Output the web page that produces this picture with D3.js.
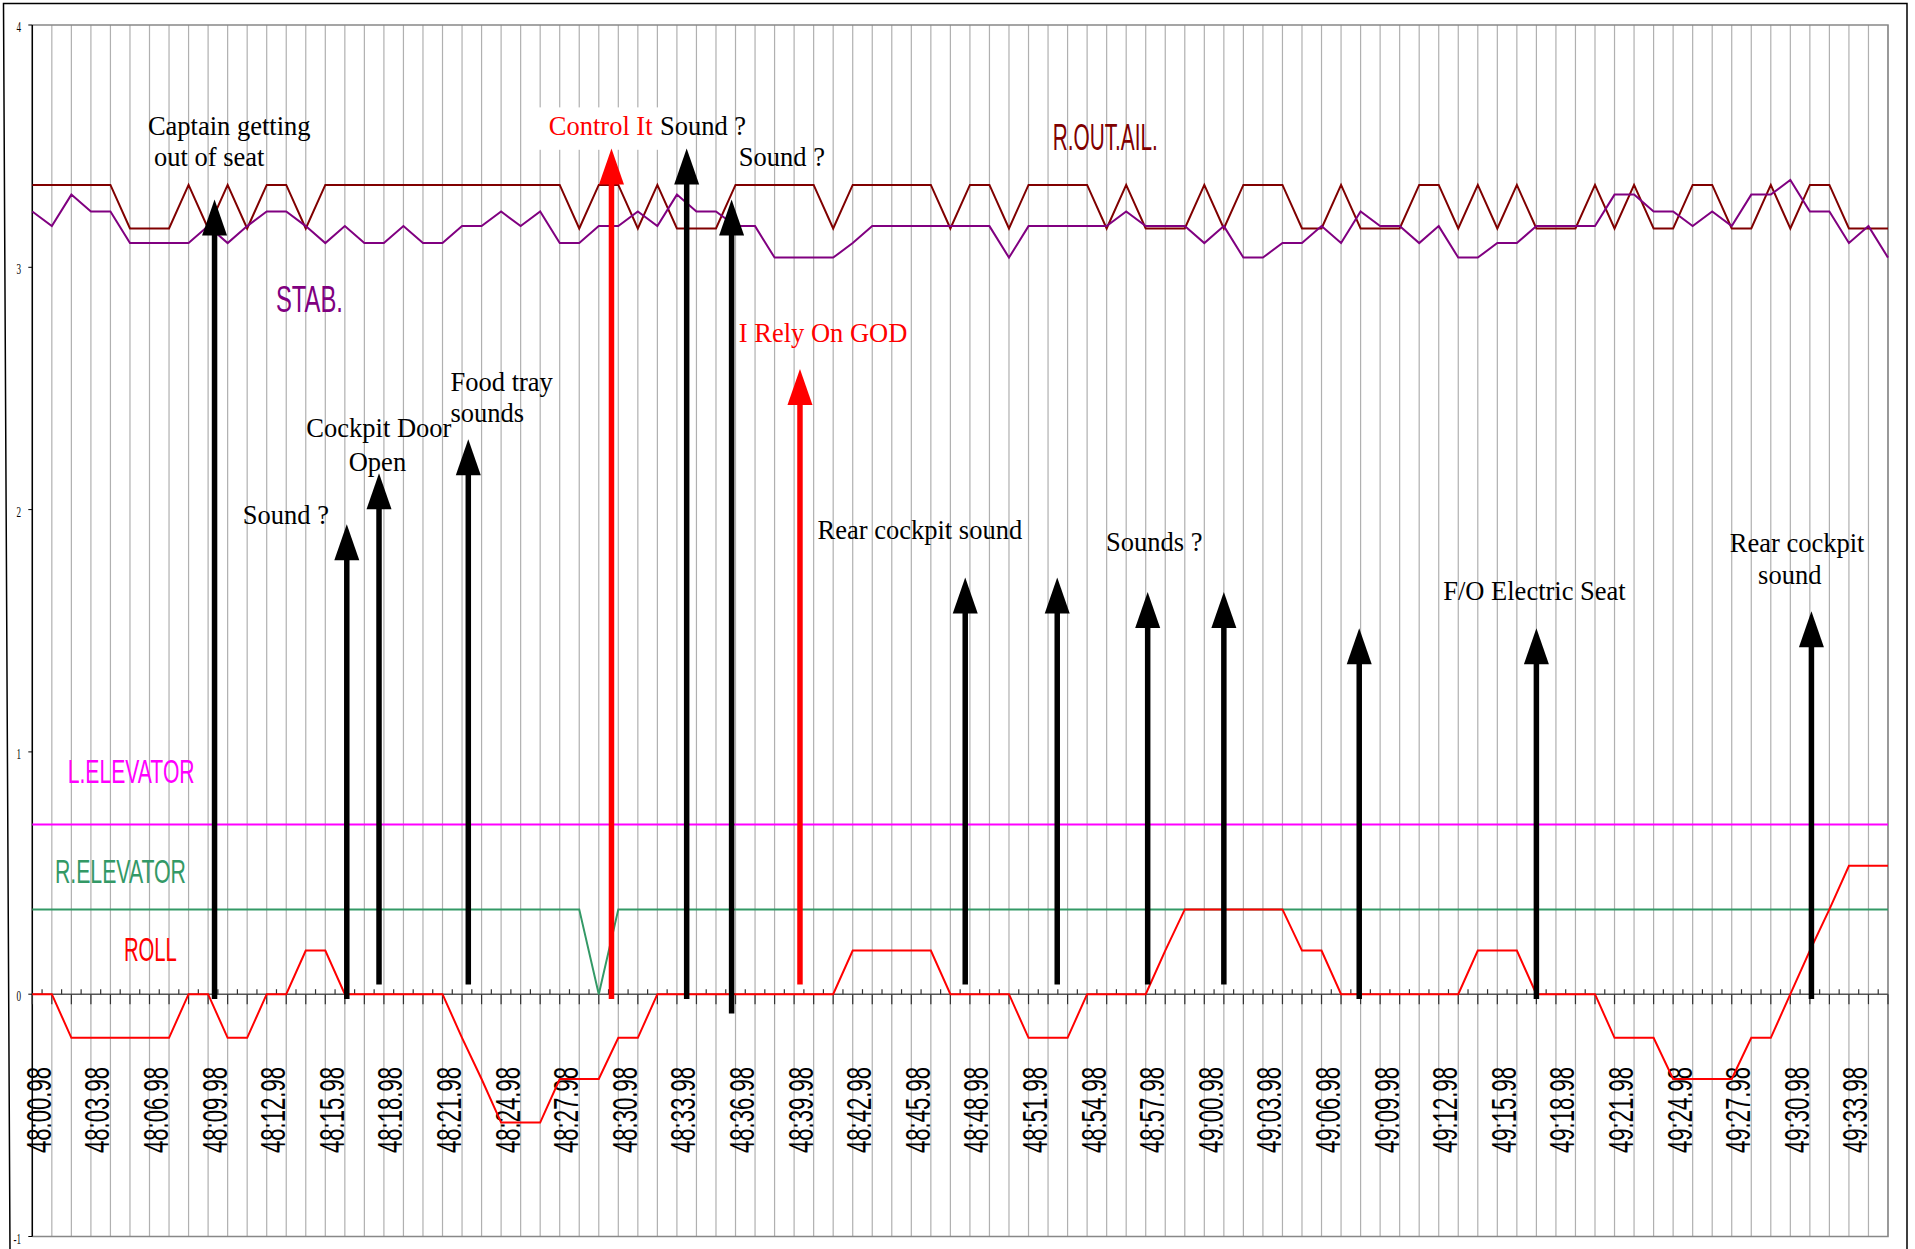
<!DOCTYPE html>
<html>
<head>
<meta charset="utf-8">
<script src="https://cdn.jsdelivr.net/npm/d3@7"></script>
<style>
    html, body { margin: 0; padding: 0; background: #fff; }
    svg { display: block; }
</style>
</head>
<body>
<div id="chart"></div>
<script>
// Time stamps (one per second)
const categories = [
    '48:00.98','48:01.98','48:02.98','48:03.98','48:04.98','48:05.98','48:06.98','48:07.98','48:08.98','48:09.98',
    '48:10.98','48:11.98','48:12.98','48:13.98','48:14.98','48:15.98','48:16.98','48:17.98','48:18.98','48:19.98',
    '48:20.98','48:21.98','48:22.98','48:23.98','48:24.98','48:25.98','48:26.98','48:27.98','48:28.98','48:29.98',
    '48:30.98','48:31.98','48:32.98','48:33.98','48:34.98','48:35.98','48:36.98','48:37.98','48:38.98','48:39.98',
    '48:40.98','48:41.98','48:42.98','48:43.98','48:44.98','48:45.98','48:46.98','48:47.98','48:48.98','48:49.98',
    '48:50.98','48:51.98','48:52.98','48:53.98','48:54.98','48:55.98','48:56.98','48:57.98','48:58.98','48:59.98',
    '49:00.98','49:01.98','49:02.98','49:03.98','49:04.98','49:05.98','49:06.98','49:07.98','49:08.98','49:09.98',
    '49:10.98','49:11.98','49:12.98','49:13.98','49:14.98','49:15.98','49:16.98','49:17.98','49:18.98','49:19.98',
    '49:20.98','49:21.98','49:22.98','49:23.98','49:24.98','49:25.98','49:26.98','49:27.98','49:28.98','49:29.98',
    '49:30.98','49:31.98','49:32.98','49:33.98','49:34.98','49:35.98'
];

// R.OUT.AIL. (maroon)
const rOutAil = [
    3.34,3.34,3.34,3.34,3.34,3.16,3.16,3.16,3.34,3.16,
    3.34,3.16,3.34,3.34,3.16,3.34,3.34,3.34,3.34,3.34,
    3.34,3.34,3.34,3.34,3.34,3.34,3.34,3.34,3.16,3.34,
    3.34,3.16,3.34,3.16,3.16,3.16,3.34,3.34,3.34,3.34,
    3.34,3.16,3.34,3.34,3.34,3.34,3.34,3.16,3.34,3.34,
    3.16,3.34,3.34,3.34,3.34,3.16,3.34,3.16,3.16,3.16,
    3.34,3.16,3.34,3.34,3.34,3.16,3.16,3.34,3.16,3.16,
    3.16,3.34,3.34,3.16,3.34,3.16,3.34,3.16,3.16,3.16,
    3.34,3.16,3.34,3.16,3.16,3.34,3.34,3.16,3.16,3.34,
    3.16,3.34,3.34,3.16,3.16,3.16
];

// STAB. (purple)
const stab = [
    3.23,3.17,3.30,3.23,3.23,3.10,3.10,3.10,3.10,3.17,
    3.10,3.17,3.23,3.23,3.17,3.10,3.17,3.10,3.10,3.17,
    3.10,3.10,3.17,3.17,3.23,3.17,3.23,3.10,3.10,3.17,
    3.17,3.23,3.17,3.30,3.23,3.23,3.17,3.17,3.04,3.04,
    3.04,3.04,3.10,3.17,3.17,3.17,3.17,3.17,3.17,3.17,
    3.04,3.17,3.17,3.17,3.17,3.17,3.23,3.17,3.17,3.17,
    3.10,3.17,3.04,3.04,3.10,3.10,3.17,3.10,3.23,3.17,
    3.17,3.10,3.17,3.04,3.04,3.10,3.10,3.17,3.17,3.17,
    3.17,3.30,3.30,3.23,3.23,3.17,3.23,3.17,3.30,3.30,
    3.36,3.23,3.23,3.10,3.17,3.04
];

// L.ELEVATOR (magenta)
const lElevator = [
    0.70,0.70,0.70,0.70,0.70,0.70,0.70,0.70,0.70,0.70,
    0.70,0.70,0.70,0.70,0.70,0.70,0.70,0.70,0.70,0.70,
    0.70,0.70,0.70,0.70,0.70,0.70,0.70,0.70,0.70,0.70,
    0.70,0.70,0.70,0.70,0.70,0.70,0.70,0.70,0.70,0.70,
    0.70,0.70,0.70,0.70,0.70,0.70,0.70,0.70,0.70,0.70,
    0.70,0.70,0.70,0.70,0.70,0.70,0.70,0.70,0.70,0.70,
    0.70,0.70,0.70,0.70,0.70,0.70,0.70,0.70,0.70,0.70,
    0.70,0.70,0.70,0.70,0.70,0.70,0.70,0.70,0.70,0.70,
    0.70,0.70,0.70,0.70,0.70,0.70,0.70,0.70,0.70,0.70,
    0.70,0.70,0.70,0.70,0.70,0.70
];

// R.ELEVATOR (green)
const rElevator = [
    0.35,0.35,0.35,0.35,0.35,0.35,0.35,0.35,0.35,0.35,
    0.35,0.35,0.35,0.35,0.35,0.35,0.35,0.35,0.35,0.35,
    0.35,0.35,0.35,0.35,0.35,0.35,0.35,0.35,0.35,0,
    0.35,0.35,0.35,0.35,0.35,0.35,0.35,0.35,0.35,0.35,
    0.35,0.35,0.35,0.35,0.35,0.35,0.35,0.35,0.35,0.35,
    0.35,0.35,0.35,0.35,0.35,0.35,0.35,0.35,0.35,0.35,
    0.35,0.35,0.35,0.35,0.35,0.35,0.35,0.35,0.35,0.35,
    0.35,0.35,0.35,0.35,0.35,0.35,0.35,0.35,0.35,0.35,
    0.35,0.35,0.35,0.35,0.35,0.35,0.35,0.35,0.35,0.35,
    0.35,0.35,0.35,0.35,0.35,0.35
];

// ROLL (red)
const roll = [
    0,0,-0.18,-0.18,-0.18,-0.18,-0.18,-0.18,0,0,
    -0.18,-0.18,0,0,0.18,0.18,0,0,0,0,
    0,0,-0.18,-0.35,-0.53,-0.53,-0.53,-0.35,-0.35,-0.35,
    -0.18,-0.18,0,0,0,0,0,0,0,0,
    0,0,0.18,0.18,0.18,0.18,0.18,0,0,0,
    0,-0.18,-0.18,-0.18,0,0,0,0,0.18,0.35,
    0.35,0.35,0.35,0.35,0.35,0.18,0.18,0,0,0,
    0,0,0,0,0.18,0.18,0.18,0,0,0,
    0,-0.18,-0.18,-0.18,-0.35,-0.35,-0.35,-0.35,-0.18,-0.18,
    0,0.18,0.35,0.53,0.53,0.53
];

const yTicks = [4, 3, 2, 1, 0, -1];
const xLabelStep = 3;

// Event arrows: position in seconds from start, tip and foot value
const arrowAt     = [9.33, 16.1, 17.75, 22.32, 29.65, 33.5, 35.8, 39.3, 47.76, 52.47, 57.1, 61.0, 67.93, 77.0, 91.08];
const arrowTip    = [3.28, 1.94, 2.15, 2.29, 3.49, 3.49, 3.28, 2.58, 1.72, 1.72, 1.66, 1.66, 1.51, 1.51, 1.58];
const arrowFoot   = [-0.02, -0.02, 0.04, 0.04, -0.02, -0.02, -0.08, 0.04, 0.04, 0.04, 0.04, 0.04, -0.02, -0.02, -0.02];
const arrowRed    = [false, false, false, false, true, false, false, true, false, false, false, false, false, false, false];

// Handwritten-style notes (anchored at seconds / value)
const notes = [
    { text: 'Captain getting', at: 5.92, v: 3.546, red: false },
    { text: 'out of seat', at: 6.23, v: 3.418, red: false },
    { text: 'Sound ?', at: 10.78, v: 1.94, red: false },
    { text: 'Cockpit Door', at: 14.03, v: 2.30, red: false },
    { text: 'Open', at: 16.2, v: 2.158, red: false },
    { text: 'Food tray', at: 21.41, v: 2.49, red: false },
    { text: 'sounds', at: 21.41, v: 2.36, red: false },
    { text: 'Control It', at: 26.44, v: 3.546, red: true },
    { text: 'Sound ?', at: 32.13, v: 3.546, red: false },
    { text: 'Sound ?', at: 36.17, v: 3.418, red: false },
    { text: 'I Rely On GOD', at: 36.17, v: 2.69, red: true },
    { text: 'Rear cockpit sound', at: 40.2, v: 1.88, red: false },
    { text: 'Sounds ?', at: 54.97, v: 1.83, red: false },
    { text: 'F/O Electric Seat', at: 72.23, v: 1.628, red: false },
    { text: 'Rear cockpit', at: 86.9, v: 1.825, red: false },
    { text: 'sound', at: 88.35, v: 1.694, red: false }
];

const seriesNames = ['STAB.', 'R.OUT.AIL.', 'L.ELEVATOR', 'R.ELEVATOR', 'ROLL'];
const seriesNameAt = [12.47, 52.24, 1.81, 1.16, 4.69];
const seriesNameV = [2.816, 3.485, 0.873, 0.46, 0.137];

const colors = {
    stab: '#800080',
    rOutAil: '#800000',
    lElevator: '#ff00ff',
    rElevator: '#339966',
    roll: '#ff0000'
};
const nameColors = [colors.stab, colors.rOutAil, colors.lElevator, colors.rElevator, colors.roll];
const nameSize = [37, 37, 34, 34, 34];
const nameWidth = [67, 105, 127, 131, 53];

const W = 1915, H = 1249;
const plot = { left: 32.3, right: 1888, top: 25, bottom: 1236.5 };

const svg = d3.select('#chart')
    .append('svg')
    .attr('width', W)
    .attr('height', H);

const x = d3.scaleLinear()
    .domain([0, categories.length - 1])
    .range([plot.left, plot.right]);

const y = d3.scaleLinear()
    .domain([-1, 4])
    .range([plot.bottom, plot.top]);

// Outer frame (scan is slightly skewed)
svg.append('path')
    .attr('d', `M10,${H} L3.5,3.5 L1907,3.5 L1907,${H}`)
    .attr('fill', 'none')
    .attr('stroke', '#000')
    .attr('stroke-width', 1.5);

// Vertical grid lines
svg.append('g')
    .selectAll('line')
    .data(categories)
    .enter()
    .append('line')
    .attr('x1', (d, i) => x(i))
    .attr('x2', (d, i) => x(i))
    .attr('y1', y(4))
    .attr('y2', y(-1))
    .attr('stroke', '#b0b0b0')
    .attr('stroke-width', 1.2);

// Plot border (top, right, bottom)
svg.append('path')
    .attr('d', `M${plot.left},${y(4)} L${plot.right},${y(4)} L${plot.right},${y(-1)} L${plot.left},${y(-1)}`)
    .attr('fill', 'none')
    .attr('stroke', '#888')
    .attr('stroke-width', 1.5);

// White box behind "Control It"
svg.append('rect')
    .attr('x', x(25.85))
    .attr('y', y(3.66))
    .attr('width', x(32.2) - x(25.85))
    .attr('height', y(3.485) - y(3.66))
    .attr('fill', '#fff');

// Y axis
svg.append('line')
    .attr('x1', plot.left).attr('x2', plot.left)
    .attr('y1', y(4)).attr('y2', y(-1))
    .attr('stroke', '#000')
    .attr('stroke-width', 1.5);

svg.append('g')
    .selectAll('line')
    .data(yTicks)
    .enter()
    .append('line')
    .attr('x1', plot.left - 4)
    .attr('x2', plot.left)
    .attr('y1', d => y(d))
    .attr('y2', d => y(d))
    .attr('stroke', '#000');

svg.append('g')
    .selectAll('text')
    .data(yTicks)
    .enter()
    .append('text')
    .attr('x', 21)
    .attr('y', d => y(d) + 7)
    .attr('text-anchor', 'end')
    .style('font-family', '"Liberation Serif", serif')
    .style('font-size', '14px')
    .text(d => d)
    .each(function() {
        this.setAttribute('textLength', this.getComputedTextLength() * 0.65);
        this.setAttribute('lengthAdjust', 'spacingAndGlyphs');
    });

// X axis at zero
const zeroY = y(0);
svg.append('line')
    .attr('x1', x(0)).attr('x2', x(categories.length - 1))
    .attr('y1', zeroY).attr('y2', zeroY)
    .attr('stroke', '#555')
    .attr('stroke-width', 1.5);

svg.append('g')
    .selectAll('line')
    .data(categories)
    .enter()
    .append('line')
    .attr('x1', (d, i) => x(i))
    .attr('x2', (d, i) => x(i))
    .attr('y1', zeroY)
    .attr('y2', zeroY + 10)
    .attr('stroke', '#333')
    .attr('stroke-width', 1.2);

svg.append('g')
    .selectAll('line')
    .data(categories.slice(1))
    .enter()
    .append('line')
    .attr('x1', (d, i) => x(i + 0.5))
    .attr('x2', (d, i) => x(i + 0.5))
    .attr('y1', zeroY - 5)
    .attr('y2', zeroY)
    .attr('stroke', '#333')
    .attr('stroke-width', 1.2);

// X tick labels, rotated
const xLabelSize = 34.5;
svg.append('g')
    .selectAll('text')
    .data(categories.map((c, i) => ({ c, i })).filter(d => d.i % xLabelStep === 0))
    .enter()
    .append('text')
    .attr('transform', d => `translate(${x(d.i) + 6 + xLabelSize * 0.36},1153) rotate(-90)`)
    .style('font-family', '"Liberation Sans", Arial, sans-serif')
    .style('font-size', xLabelSize + 'px')
    .attr('fill', '#000')
    .attr('textLength', 86)
    .attr('lengthAdjust', 'spacingAndGlyphs')
    .text(d => d.c);

// Series lines
const line = d3.line()
    .x((d, i) => x(i))
    .y(d => y(d));

const series = [
    { values: lElevator, color: colors.lElevator },
    { values: rElevator, color: colors.rElevator },
    { values: roll, color: colors.roll },
    { values: rOutAil, color: colors.rOutAil },
    { values: stab, color: colors.stab }
];

svg.append('g')
    .selectAll('path')
    .data(series)
    .enter()
    .append('path')
    .attr('d', d => line(d.values))
    .attr('fill', 'none')
    .attr('stroke', d => d.color)
    .attr('stroke-width', 2)
    .attr('stroke-linejoin', 'miter');

// Series names (narrow sans)
svg.append('g')
    .selectAll('text')
    .data(seriesNames)
    .enter()
    .append('text')
    .attr('x', (d, i) => x(seriesNameAt[i]))
    .attr('y', (d, i) => y(seriesNameV[i]))
    .attr('fill', (d, i) => nameColors[i])
    .style('font-family', '"Liberation Sans", Arial, sans-serif')
    .style('font-size', (d, i) => nameSize[i] + 'px')
    .attr('textLength', (d, i) => nameWidth[i])
    .attr('lengthAdjust', 'spacingAndGlyphs')
    .text(d => d);

// Arrows
const headLen = 36, headHalf = 12.5;
const arrows = arrowAt.map((a, i) => ({ a, tip: arrowTip[i], foot: arrowFoot[i], red: arrowRed[i] }));

const arrowG = svg.append('g');
arrowG.selectAll('line')
    .data(arrows)
    .enter()
    .append('line')
    .attr('x1', d => x(d.a))
    .attr('x2', d => x(d.a))
    .attr('y1', d => y(d.foot))
    .attr('y2', d => y(d.tip) + headLen - 2)
    .attr('stroke', d => d.red ? '#ff0000' : '#000')
    .attr('stroke-width', 5.5);

arrowG.selectAll('path')
    .data(arrows)
    .enter()
    .append('path')
    .attr('d', d => {
        const cx = x(d.a), ty = y(d.tip);
        return `M${cx},${ty} L${cx + headHalf},${ty + headLen} L${cx - headHalf},${ty + headLen} Z`;
    })
    .attr('fill', d => d.red ? '#ff0000' : '#000');

// Notes
svg.append('g')
    .selectAll('text')
    .data(notes)
    .enter()
    .append('text')
    .attr('x', d => x(d.at))
    .attr('y', d => y(d.v))
    .attr('fill', d => d.red ? '#ff0000' : '#000')
    .style('font-family', '"Liberation Serif", "Times New Roman", serif')
    .style('font-size', '26.5px')
    .text(d => d.text);
</script>
</body>
</html>
